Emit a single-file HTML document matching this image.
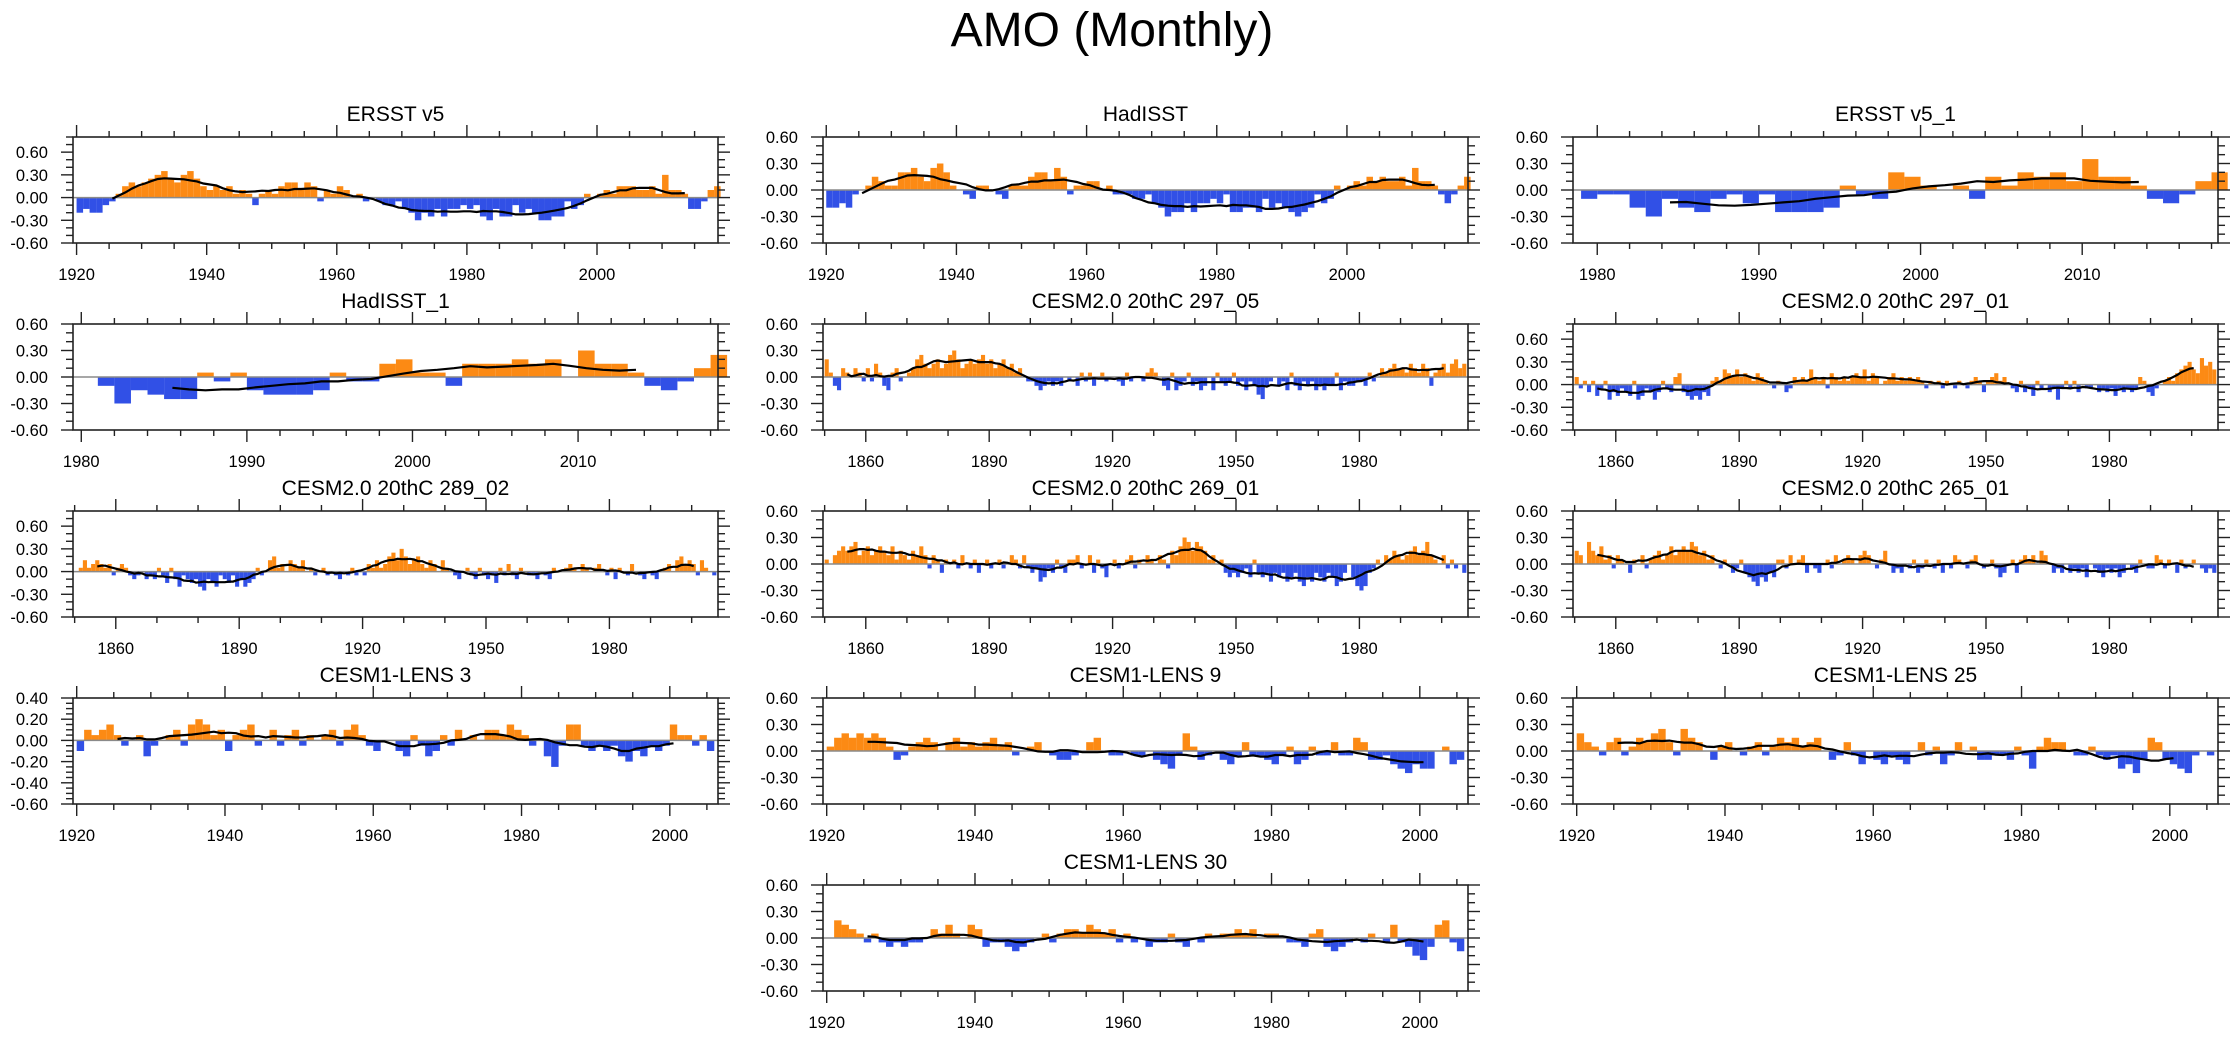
<!DOCTYPE html>
<html><head><meta charset="utf-8">
<style>
html,body{margin:0;padding:0;background:#fff;}
svg{display:block;font-family:"Liberation Sans",Arial,sans-serif;}
</style></head>
<body>
<svg id="chart" width="2230" height="1038" viewBox="0 0 2230 1038" xmlns="http://www.w3.org/2000/svg">
<rect width="2230" height="1038" fill="#fff"/>
<text x="1112" y="46" font-size="48" text-anchor="middle" fill="#000">AMO (Monthly)</text>
</svg>
<script>
// Yearly anomaly values
const ersstV5 = [-0.2,-0.15,-0.2,-0.2,-0.1,-0.05,0.05,0.15,0.2,0.15,0.2,0.25,0.3,0.35,0.25,0.2,0.3,0.35,0.25,0.15,0.1,0.15,0.1,0.15,0.05,0.1,0.05,-0.1,0.05,0.1,0.05,0.15,0.2,0.2,0.1,0.2,0.15,-0.05,0.1,0.05,0.15,0.1,0.0,0.05,-0.05,0.0,-0.05,-0.1,-0.1,-0.05,-0.15,-0.2,-0.3,-0.2,-0.25,-0.15,-0.25,-0.15,-0.15,-0.1,-0.15,-0.1,-0.25,-0.3,-0.15,-0.25,-0.25,-0.1,-0.2,-0.15,-0.2,-0.3,-0.3,-0.25,-0.25,-0.05,-0.15,-0.1,0.05,0.0,0.05,0.1,0.05,0.15,0.15,0.15,0.1,0.1,0.15,0.05,0.3,0.1,0.1,0.05,-0.15,-0.15,-0.05,0.1,0.15];
const hadisst = [-0.2,-0.2,-0.15,-0.2,-0.05,0.0,0.05,0.15,0.1,0.05,0.05,0.2,0.2,0.25,0.15,0.1,0.25,0.3,0.2,0.05,0.0,-0.05,-0.1,0.05,0.05,0.0,-0.05,-0.1,0.05,0.05,0.05,0.15,0.2,0.2,0.1,0.25,0.15,-0.05,0.05,0.05,0.1,0.1,0.0,0.05,-0.05,-0.05,-0.05,-0.1,-0.1,-0.05,-0.15,-0.2,-0.3,-0.25,-0.25,-0.15,-0.25,-0.15,-0.15,-0.1,-0.15,-0.05,-0.25,-0.25,-0.2,-0.2,-0.25,-0.1,-0.2,-0.15,-0.2,-0.25,-0.3,-0.25,-0.2,-0.05,-0.15,-0.1,0.05,0.0,0.05,0.1,0.05,0.15,0.1,0.15,0.1,0.1,0.15,0.05,0.25,0.1,0.1,0.05,-0.05,-0.15,-0.05,0.05,0.15];
const ersstV5b = [-0.1,-0.05,-0.05,-0.2,-0.3,-0.1,-0.2,-0.25,-0.1,-0.05,-0.15,-0.05,-0.25,-0.25,-0.25,-0.2,0.05,-0.05,-0.1,0.2,0.15,0.05,0.0,0.05,-0.1,0.15,0.05,0.2,0.15,0.2,0.1,0.35,0.15,0.15,0.05,-0.1,-0.15,-0.05,0.1,0.2];
const hadisstB = [0.0,-0.1,-0.3,-0.15,-0.2,-0.25,-0.25,0.05,-0.05,0.05,-0.15,-0.2,-0.2,-0.2,-0.15,0.05,-0.05,-0.05,0.15,0.2,0.05,0.05,-0.1,0.15,0.15,0.15,0.2,0.15,0.2,0.0,0.3,0.15,0.15,0.05,-0.1,-0.15,-0.05,0.1,0.25];
const cesm29705 = [0.2,0.05,-0.1,-0.15,0.1,0.05,0.0,0.1,0.05,-0.05, 0.1,-0.05,0.15,0.05,-0.1,-0.15,0.05,0.1,-0.05,0.0, 0.05,0.1,0.2,0.25,0.15,0.1,0.15,0.2,0.1,0.15, 0.25,0.3,0.2,0.1,0.15,0.2,0.15,0.2,0.25,0.15, 0.2,0.1,0.15,0.2,0.1,0.15,0.05,0.1,0.0,-0.05, -0.05,-0.1,-0.15,-0.1,-0.05,-0.1,-0.05,-0.1,0.0,-0.05, 0.0,-0.1,0.05,-0.05,0.05,-0.1,0.0,0.05,-0.05,0.0, 0.0,-0.05,-0.1,0.05,-0.05,0.0,0.0,-0.05,0.05,0.1, 0.05,0.0,-0.1,-0.15,0.05,-0.15,-0.1,-0.05,0.05,-0.1, -0.05,-0.15,-0.1,0.0,-0.15,0.05,-0.05,-0.1,-0.05,0.05, -0.1,-0.05,-0.15,-0.05,-0.1,-0.2,-0.25,-0.1,-0.05,0.0, -0.1,-0.05,-0.15,0.05,-0.1,-0.15,-0.05,-0.1,-0.05,-0.15, -0.1,-0.15,-0.1,-0.1,0.05,-0.15,-0.05,-0.1,-0.1,-0.05, -0.05,-0.1,0.05,-0.05,0.0,0.1,0.05,0.1,0.15,0.1, 0.1,0.05,0.15,0.1,0.05,0.15,0.1,-0.1,0.05,0.1, 0.15,0.05,0.15,0.2,0.1,0.15];
const cesm29701 = [0.1,-0.05,0.05,-0.1,0.05,-0.15,-0.05,0.05,-0.2,-0.1, -0.15,-0.05,-0.1,-0.15,0.05,-0.2,-0.15,-0.05,-0.1,-0.2, -0.1,0.05,-0.05,-0.1,0.1,0.15,-0.1,-0.15,-0.2,-0.15, -0.2,-0.1,-0.15,0.05,0.1,0.05,0.2,0.15,0.1,0.2, 0.1,0.15,0.1,0.05,0.15,0.1,0.05,0.0,-0.05,0.05, 0.0,-0.1,-0.05,0.1,0.05,0.1,0.05,0.2,0.1,0.05, 0.1,-0.05,0.15,0.1,0.05,0.1,0.05,0.1,0.15,0.1, 0.2,0.05,0.15,0.1,0.0,0.05,0.1,0.15,0.05,0.1, 0.05,0.1,0.05,0.1,0.05,-0.05,0.05,0.0,0.05,-0.05, 0.05,0.0,-0.05,0.05,0.0,-0.05,0.05,0.1,0.05,-0.1, 0.05,0.1,0.15,0.05,0.1,0.0,-0.05,-0.1,0.05,-0.1, -0.05,-0.15,0.05,-0.05,0.0,-0.1,-0.05,-0.2,-0.05,0.05, -0.05,0.05,-0.1,0.0,-0.05,-0.05,0.0,-0.1,-0.05,-0.1, -0.05,-0.15,-0.05,-0.1,-0.05,-0.1,-0.05,0.1,0.05,-0.1, -0.15,-0.05,0.0,0.05,0.1,0.05,0.15,0.2,0.25,0.3, 0.2,0.15,0.35,0.25,0.3,0.2];
const cesm28902 = [0.0,0.05,0.15,0.05,0.1,0.15,0.1,0.05,0.1,-0.05, 0.05,0.1,0.05,-0.05,-0.1,-0.05,0.0,-0.1,-0.05,-0.1, 0.05,-0.05,-0.15,0.05,-0.1,-0.2,-0.05,-0.1,-0.15,-0.1, -0.2,-0.25,-0.1,-0.15,-0.2,-0.05,-0.1,-0.15,-0.05,-0.2, -0.1,-0.2,-0.15,-0.1,0.05,-0.05,0.0,0.15,0.2,0.05, 0.1,0.0,0.15,0.1,0.05,0.15,0.0,0.05,-0.05,0.0, 0.05,-0.05,0.0,-0.05,-0.1,0.0,-0.05,0.05,-0.05,0.0, -0.05,0.1,0.05,0.15,0.05,0.1,0.2,0.25,0.15,0.3, 0.2,0.1,0.15,0.2,0.1,0.05,0.15,0.1,0.0,0.15, 0.05,0.0,-0.05,-0.1,0.0,0.05,-0.05,-0.1,0.05,-0.05, -0.1,-0.05,-0.15,0.05,-0.05,0.1,-0.05,-0.1,0.05,0.0, -0.05,-0.05,-0.1,0.0,-0.05,-0.1,0.05,0.0,0.0,0.05, 0.1,0.05,0.0,0.1,0.05,0.0,0.05,0.1,0.0,-0.05, 0.05,-0.1,0.05,0.0,-0.05,0.1,0.0,-0.05,-0.1,0.0, -0.05,-0.1,0.0,0.05,0.1,0.0,0.15,0.2,0.1,0.15, 0.1,-0.05,0.15,0.05,0.0,-0.05];
const cesm26901 = [0.05,0.0,0.1,0.15,0.2,0.15,0.2,0.25,0.1,0.15, 0.2,0.1,0.15,0.2,0.15,0.1,0.2,0.05,0.15,0.1, 0.05,0.15,0.1,0.2,0.1,-0.05,0.1,0.05,-0.1,0.05, 0.0,0.05,-0.05,0.1,0.0,-0.05,0.05,-0.1,0.0,0.05, -0.05,0.0,0.05,-0.05,0.0,0.1,0.05,-0.05,0.1,-0.05, -0.1,-0.05,-0.2,-0.15,-0.05,-0.1,0.05,-0.05,-0.1,0.05, 0.05,0.1,-0.05,0.0,0.1,-0.1,0.05,-0.05,-0.15,0.0, 0.05,-0.05,0.0,0.05,0.1,-0.05,0.05,0.0,0.1,0.05, 0.0,0.1,0.05,-0.05,0.15,0.1,0.2,0.3,0.25,0.15, 0.25,0.2,0.15,0.05,0.1,0.0,0.05,-0.1,-0.15,-0.1, -0.15,-0.1,-0.05,-0.15,0.05,-0.1,-0.15,-0.1,-0.2,-0.1, -0.15,-0.1,-0.2,-0.15,-0.1,-0.2,-0.25,-0.15,-0.2,-0.1, -0.15,-0.2,-0.1,-0.15,-0.25,-0.2,-0.1,0.0,-0.15,-0.25, -0.3,-0.25,-0.1,-0.05,0.05,0.0,0.1,0.05,0.15,0.1, 0.05,0.1,0.15,0.2,0.1,0.15,0.25,0.1,0.05,0.0, 0.1,-0.05,0.05,-0.05,0.0,-0.1];
const cesm26501 = [0.15,0.1,0.0,0.25,0.15,0.1,0.2,0.05,0.1,-0.05, 0.1,0.05,0.0,-0.1,0.05,0.0,0.1,-0.05,0.05,0.1, 0.15,0.05,0.1,0.2,0.1,0.15,0.2,0.15,0.25,0.2, 0.1,0.15,0.05,0.1,0.0,-0.05,0.05,0.0,-0.1,-0.05, 0.05,-0.1,-0.15,-0.2,-0.25,-0.15,-0.2,-0.1,-0.15,0.05, 0.05,-0.05,0.1,0.0,0.05,0.1,-0.1,0.0,-0.05,-0.1, 0.0,0.05,-0.05,0.1,0.0,0.05,0.1,0.05,0.0,0.1, 0.15,0.1,0.0,-0.05,0.05,0.15,0.0,-0.1,-0.05,-0.1, 0.0,-0.05,0.05,-0.1,-0.05,0.05,0.0,-0.05,0.05,-0.1, 0.0,-0.05,0.1,0.05,0.0,-0.05,0.05,0.1,0.0,-0.05, 0.0,0.05,-0.05,-0.15,-0.1,0.0,0.05,-0.1,0.05,0.1, 0.05,0.1,0.0,0.15,0.1,0.0,-0.1,-0.05,-0.1,0.0, -0.1,-0.05,-0.1,-0.05,-0.15,0.0,-0.05,-0.1,-0.15,-0.05, -0.1,-0.05,-0.15,-0.1,0.0,-0.05,-0.1,0.05,0.0,-0.05, -0.05,0.1,0.05,-0.05,0.05,0.0,-0.1,0.05,-0.05,0.0, 0.05,0.0,-0.05,-0.1,-0.05,-0.1];
const lens3 = [-0.1,0.1,0.05,0.1,0.15,0.05,-0.05,0.0,0.05,-0.15, -0.05,0.0,0.05,0.1,-0.05,0.15,0.2,0.15,0.05,0.1, -0.1,0.05,0.1,0.15,-0.05,0.0,0.1,-0.05,0.05,0.1, -0.05,0.05,0.0,0.05,0.1,-0.05,0.1,0.15,0.05,-0.05, -0.1,0.0,0.0,-0.1,-0.15,0.05,-0.05,-0.15,-0.1,0.05, -0.05,0.1,0.0,0.05,0.0,0.1,0.1,0.05,0.15,0.1, 0.05,-0.05,0.0,-0.15,-0.25,-0.05,0.15,0.15,-0.05,-0.1, -0.05,-0.1,-0.05,-0.15,-0.2,-0.1,-0.15,-0.05,-0.1,-0.05, 0.15,0.05,0.05,-0.05,0.05,-0.1];
const lens9 = [0.05,0.15,0.2,0.15,0.2,0.15,0.2,0.15,0.05,-0.1, -0.05,0.05,0.1,0.15,0.1,0.0,0.1,0.15,0.05,0.1, 0.05,0.1,0.15,0.05,0.1,-0.05,0.0,0.05,0.1,0.0, -0.05,-0.1,-0.1,-0.05,0.0,0.1,0.15,0.0,-0.05,-0.05, 0.0,-0.05,-0.05,0.0,-0.1,-0.15,-0.2,-0.05,0.2,0.05, -0.1,-0.05,0.0,-0.1,-0.15,-0.05,0.1,-0.05,-0.05,-0.1, -0.15,-0.05,0.05,-0.15,-0.1,0.05,-0.05,-0.05,0.1,-0.05, -0.05,0.15,0.1,-0.1,-0.1,-0.05,-0.15,-0.2,-0.25,-0.15, -0.2,-0.2,0.0,0.05,-0.15,-0.1];
const lens25 = [0.2,0.1,0.05,-0.05,0.1,0.15,-0.05,0.05,0.15,0.1, 0.2,0.25,0.1,-0.05,0.25,0.15,0.1,0.0,-0.1,0.05, 0.1,0.0,-0.05,0.05,0.1,-0.05,0.05,0.15,0.1,0.15, 0.05,0.1,0.15,0.0,-0.1,-0.05,0.1,-0.05,-0.15,0.0, -0.1,-0.15,-0.05,-0.1,-0.15,0.0,0.1,-0.05,0.05,-0.15, -0.05,0.1,0.0,0.05,-0.1,-0.1,-0.05,-0.05,-0.1,0.05, -0.05,-0.2,0.05,0.15,0.1,0.1,0.0,-0.05,-0.05,0.05, -0.05,-0.1,-0.05,-0.2,-0.15,-0.25,-0.1,0.15,0.1,-0.1, -0.15,-0.2,-0.25,-0.05,0.0,-0.05];
const lens30 = [0.0,0.2,0.15,0.1,0.05,-0.05,0.05,-0.05,-0.1,-0.05, -0.1,-0.05,-0.05,0.0,0.1,0.05,0.15,0.05,0.0,0.15, 0.1,-0.1,-0.05,-0.05,-0.1,-0.15,-0.1,-0.05,0.0,0.05, -0.05,0.05,0.1,0.1,0.05,0.15,0.1,0.05,0.1,-0.05, 0.05,-0.05,0.0,-0.1,-0.05,-0.05,0.05,-0.05,-0.1,0.0, -0.05,0.05,0.0,0.05,0.05,0.1,0.05,0.1,0.0,0.05, 0.05,0.0,-0.05,-0.05,-0.1,0.05,0.1,-0.1,-0.15,-0.1, -0.05,0.0,-0.05,0.05,0.0,-0.05,0.15,-0.05,-0.1,-0.2, -0.25,-0.1,0.15,0.2,-0.05,-0.15];

// Panel titles and axis settings
const titles = ["ERSST v5","HadISST","ERSST v5_1","HadISST_1","CESM2.0 20thC 297_05","CESM2.0 20thC 297_01","CESM2.0 20thC 289_02","CESM2.0 20thC 269_01","CESM2.0 20thC 265_01","CESM1-LENS 3","CESM1-LENS 9","CESM1-LENS 25","CESM1-LENS 30"];
const series = [ersstV5,hadisst,ersstV5b,hadisstB,cesm29705,cesm29701,cesm28902,cesm26901,cesm26501,lens3,lens9,lens25,lens30];
const startYears = [1920,1920,1979,1980,1850,1850,1850,1850,1850,1920,1920,1920,1920];
const xMins = [1919.45,1919.5,1978.5,1979.5,1849.6,1849.6,1849.6,1849.6,1849.6,1919.5,1919.5,1919.5,1919.5];
const xMaxs = [2018.6,2018.6,2018.4,2018.45,2006.4,2006.4,2006.4,2006.4,2006.4,2006.5,2006.5,2006.5,2006.5];
const yMaxs = [0.8,0.6,0.6,0.6,0.6,0.8,0.8,0.6,0.6,0.4,0.6,0.6,0.6];
const yTickLabelsStd = ["0.60","0.30","0.00","-0.30","-0.60"];
const yTickLabelsL3 = ["0.40","0.20","0.00","-0.20","-0.40","-0.60"];

const NS="http://www.w3.org/2000/svg";
const svg=document.getElementById('chart');
const colX=[73,823,1573], rowY=[137,324,511,698,885], PW=645, PH=106;
const slots=[[0,0],[1,0],[2,0],[0,1],[1,1],[2,1],[0,2],[1,2],[2,2],[0,3],[1,3],[2,3],[1,4]];
function mk(tag,attrs,parent){const e=document.createElementNS(NS,tag);for(const k in attrs)e.setAttribute(k,attrs[k]);(parent||svg).appendChild(e);return e;}

series.forEach((data,p)=>{
  const L=colX[slots[p][0]], T=rowY[slots[p][1]], R=L+PW, B=T+PH;
  const x0=xMins[p], x1=xMaxs[p], yMin=-0.6, yMax=yMaxs[p];
  const sx=v=>L+(v-x0)/(x1-x0)*PW;
  const sy=v=>B-(v-yMin)/(yMax-yMin)*PH;
  const g=mk('g',{});
  
  
  const t=mk('text',{x:(L+R)/2,y:T-16,'font-size':21,'text-anchor':'middle',fill:'#000'},g);
  t.textContent=titles[p];
  
  
  // bars
  const y0=sy(0);
  data.forEach((v,i)=>{
    const xa=sx(startYears[p]+i), xb=sx(startYears[p]+i+1);
    const vv=Math.max(yMin,Math.min(yMax,v));
    const yy=sy(vv);
    const r=mk('rect',{x:xa,y:Math.min(yy,y0),width:Math.max(0.5,xb-xa),height:Math.abs(yy-y0),fill:v>=0?'#fc8a14':'#3150e6'},g);
    
    
  });
  // zero line
  const z=mk('line',{x1:L,x2:R,y1:y0,y2:y0,stroke:'#8a8a8a','stroke-width':1.5},g);
  
  
  // running mean (11-yr)
  let pts=[];
  for(let i=5;i<data.length-5;i++){let s=0;for(let k=-5;k<=5;k++)s+=data[i+k];pts.push(sx(startYears[p]+i+0.5).toFixed(1)+','+sy(s/11).toFixed(1));}
  const pl=mk('polyline',{points:pts.join(' '),fill:'none',stroke:'#000','stroke-width':2.2},g);
  
  
  // frame
  const fr=mk('rect',{x:L,y:T,width:PW,height:PH,fill:'none',stroke:'#222','stroke-width':1.6},g);
  
  
  // x ticks
  let maj,mn,first;
  if(x1-x0>120){maj=30;mn=10;first=1860;} else if(x1-x0>60){maj=20;mn=5;first=1920;} else {maj=10;mn=2;first=1980;}
  for(let yv=Math.ceil(x0/mn)*mn; yv<=x1; yv+=mn){
    const X=sx(yv), isMaj=((yv-first)%maj===0)&&yv>=first;
    const len=isMaj?12:6;
    mk('line',{x1:X,x2:X,y1:B,y2:B+len,stroke:'#222','stroke-width':1.4},g);
    mk('line',{x1:X,x2:X,y1:T,y2:T-len,stroke:'#222','stroke-width':1.4},g);
    if(isMaj){
      const lb=mk('text',{x:X,y:B+37,'font-size':16.5,'text-anchor':'middle',fill:'#000'},g);
      lb.textContent=String(yv);
      
      
    }
  }
  // y ticks
  const step=yMax===0.4?0.2:0.3, mstep=yMax===0.4?0.05:0.1;
  const labels=yMax===0.4?yTickLabelsL3:yTickLabelsStd;
  for(let k=0;k*mstep<=yMax-yMin+1e-6;k++){
    const v=yMin+k*mstep, Y=sy(v);
    const isMaj=Math.abs(Math.round((v-yMin)/step)*step-(v-yMin))<1e-6;
    const len=isMaj?12:7;
    mk('line',{x1:L,x2:L-len,y1:Y,y2:Y,stroke:'#222','stroke-width':1.4},g);
    mk('line',{x1:R,x2:R+len,y1:Y,y2:Y,stroke:'#222','stroke-width':1.4},g);
  }
  labels.forEach((s,j)=>{
    const v=(yMax===0.4?0.4:0.6)-j*step;
    const lb=mk('text',{x:L-25,y:sy(v)+6,'font-size':16.5,'text-anchor':'end',fill:'#000'},g);
    lb.textContent=s;
    
    
  });
});
</script>
</body></html>
